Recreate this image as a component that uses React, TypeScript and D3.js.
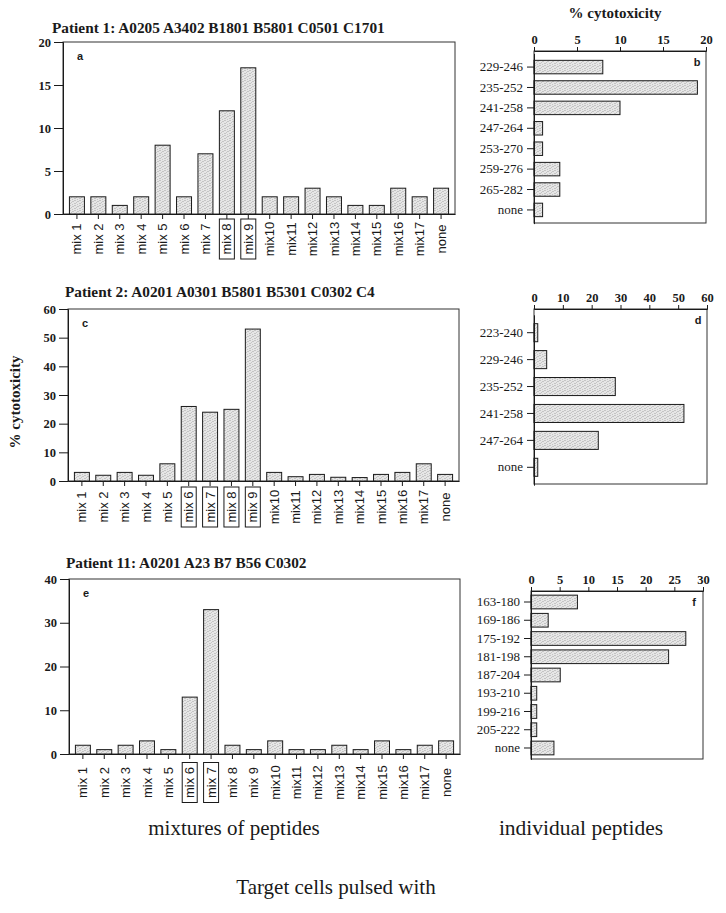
import React, { useEffect, useRef } from 'react';
import * as d3 from 'd3';

// categories and values
const mixCategories = [
  'mix 1', 'mix 2', 'mix 3', 'mix 4', 'mix 5', 'mix 6', 'mix 7', 'mix 8', 'mix 9',
  'mix10', 'mix11', 'mix12', 'mix13', 'mix14', 'mix15', 'mix16', 'mix17', 'none',
];
const patient1Values = [2, 2, 1, 2, 8, 2, 7, 12, 17, 2, 2, 3, 2, 1, 1, 3, 2, 3];
const patient2Values = [3, 2, 3, 2, 6, 26, 24, 25, 53, 3, 1.5, 2.3, 1.3, 1.2, 2.3, 3, 6, 2.3];
const patient11Values = [2, 1, 2, 3, 1, 13, 33, 2, 1, 3, 1, 1, 2, 1, 3, 1, 2, 3];

const boxedA = ['mix 8', 'mix 9'];
const boxedC = ['mix 6', 'mix 7', 'mix 8', 'mix 9'];
const boxedE = ['mix 6', 'mix 7'];

const ticksA = [0, 5, 10, 15, 20];
const ticksC = [0, 10, 20, 30, 40, 50, 60];
const ticksE = [0, 10, 20, 30, 40];

const peptidesB = ['229-246', '235-252', '241-258', '247-264', '253-270', '259-276', '265-282', 'none'];
const valuesB = [8, 19, 10, 1, 1, 3, 3, 1];
const ticksB = [0, 5, 10, 15, 20];

const peptidesD = ['223-240', '229-246', '235-252', '241-258', '247-264', 'none'];
const valuesD = [1.3, 4.4, 28.2, 52, 22.3, 1.3];
const ticksD = [0, 10, 20, 30, 40, 50, 60];

const peptidesF = ['163-180', '169-186', '175-192', '181-198', '187-204', '193-210', '199-216', '205-222', 'none'];
const valuesF = [8.1, 3, 27, 24, 5.1, 1, 1, 1, 4];
const ticksF = [0, 5, 10, 15, 20, 25, 30];

const titleA = 'Patient 1: A0205 A3402 B1801 B5801 C0501 C1701';
const titleC = 'Patient 2: A0201 A0301 B5801 B5301 C0302 C4';
const titleE = 'Patient 11: A0201 A23 B7 B56 C0302';

const SERIF = '"Liberation Serif", "Times New Roman", serif';
const SANS = '"Liberation Sans", Arial, sans-serif';
const INK = '#1a1a1a';

const App: React.FC = () => {
  const svgRef = useRef<SVGSVGElement>(null);

  useEffect(() => {
    if (!svgRef.current) return;
    const svg = d3.select(svgRef.current);
    svg.selectAll('*').remove();

    // stippled fill like the printed bars (scattered dots, no diagonal run)
    const pat = svg.append('defs').append('pattern')
      .attr('id', 'stipple')
      .attr('width', 5).attr('height', 5)
      .attr('patternUnits', 'userSpaceOnUse');
    pat.append('rect').attr('width', 5).attr('height', 5).attr('fill', '#e6e6e6');
    [[0, 0], [3, 1], [1, 2], [4, 3], [2, 4], [2, 1], [0, 3], [4, 0]].forEach(([dx, dy]) => {
      pat.append('rect').attr('x', dx).attr('y', dy).attr('width', 1).attr('height', 1).attr('fill', '#c4c4c4');
    });

    const mixPanels = [
      { title: titleA, values: patient1Values, boxed: boxedA, ticks: ticksA, letter: 'a',
        left: 63, right: 455, top: 42, bottom: 214, titleX: 52, titleY: 33, labOff: 25 },
      { title: titleC, values: patient2Values, boxed: boxedC, ticks: ticksC, letter: 'c',
        left: 68, right: 459, top: 309, bottom: 481, titleX: 65, titleY: 297, labOff: 26 },
      { title: titleE, values: patient11Values, boxed: boxedE, ticks: ticksE, letter: 'e',
        left: 69, right: 460, top: 579, bottom: 754, titleX: 66, titleY: 568, labOff: 28.5 },
    ];

    mixPanels.forEach(p => {
      const x = d3.scaleBand().domain(mixCategories).range([p.left, p.right]).padding(0.3);
      const y = d3.scaleLinear().domain([0, p.ticks[p.ticks.length - 1]]).range([p.bottom, p.top]);
      const g = svg.append('g');

      g.append('text')
        .attr('x', p.titleX).attr('y', p.titleY)
        .attr('font-family', SERIF).attr('font-weight', 'bold').attr('font-size', 15.3)
        .attr('fill', INK)
        .text(p.title);

      // frame
      g.append('rect')
        .attr('x', p.left).attr('y', p.top)
        .attr('width', p.right - p.left).attr('height', p.bottom - p.top)
        .attr('fill', 'none').attr('stroke', '#333').attr('stroke-width', 1);

      g.selectAll('.bar')
        .data(p.values)
        .enter().append('rect')
        .attr('x', (_d, i) => x(mixCategories[i]) || 0)
        .attr('y', d => y(d))
        .attr('width', x.bandwidth())
        .attr('height', d => p.bottom - y(d))
        .attr('fill', 'url(#stipple)')
        .attr('stroke', INK).attr('stroke-width', 1);

      const ya = g.append('g')
        .attr('transform', `translate(${p.left},0)`)
        .call(d3.axisLeft(y).tickValues(p.ticks).tickSize(9).tickPadding(3).tickFormat(d3.format('d')));
      ya.select('.domain').attr('stroke', INK);
      ya.selectAll('line').attr('stroke', INK);
      ya.selectAll('text')
        .attr('font-family', SERIF).attr('font-weight', 'bold').attr('font-size', 12.5).attr('fill', INK);

      const xa = g.append('g')
        .attr('transform', `translate(0,${p.bottom})`)
        .call(d3.axisBottom(x).tickSize(5).tickSizeOuter(0));
      xa.select('.domain').attr('stroke', INK);
      xa.selectAll('line').attr('stroke', INK);
      xa.selectAll<SVGTextElement, string>('text')
        .attr('transform', 'rotate(-90)')
        .attr('x', -p.labOff).attr('y', 0).attr('dy', '0.35em')
        .attr('text-anchor', 'middle')
        .attr('font-family', SANS).attr('font-size', 13).attr('fill', INK);
      xa.selectAll<SVGGElement, string>('.tick')
        .filter(d => p.boxed.includes(d))
        .append('rect')
        .attr('x', -7.5).attr('y', p.labOff - 20)
        .attr('width', 15).attr('height', 40)
        .attr('fill', 'none').attr('stroke', INK).attr('stroke-width', 1);

      g.append('text')
        .attr('x', p.left + 14).attr('y', p.top + 18)
        .attr('font-family', SANS).attr('font-weight', 'bold').attr('font-size', 11)
        .attr('fill', INK)
        .text(p.letter);
    });

    const pepPanels = [
      { cats: peptidesB, values: valuesB, ticks: ticksB, letter: 'b', pad: 0.34,
        left: 534, right: 706, top: 51, bottom: 223, bandTop: 53.4, bandBottom: 223.6 },
      { cats: peptidesD, values: valuesD, ticks: ticksD, letter: 'd', pad: 0.33,
        left: 534, right: 707, top: 309, bottom: 484, bandTop: 314.8, bandBottom: 485.2 },
      { cats: peptidesF, values: valuesF, ticks: ticksF, letter: 'f', pad: 0.25,
        left: 531, right: 703, top: 591, bottom: 759, bandTop: 590.6, bandBottom: 759.4 },
    ];

    pepPanels.forEach(p => {
      const y = d3.scaleBand().domain(p.cats).range([p.bandTop, p.bandBottom]).padding(p.pad);
      const x = d3.scaleLinear().domain([0, p.ticks[p.ticks.length - 1]]).range([p.left, p.right]);
      const g = svg.append('g');

      g.append('rect')
        .attr('x', p.left).attr('y', p.top)
        .attr('width', p.right - p.left).attr('height', p.bottom - p.top)
        .attr('fill', 'none').attr('stroke', '#333').attr('stroke-width', 1);

      g.selectAll('.bar')
        .data(p.values)
        .enter().append('rect')
        .attr('x', p.left)
        .attr('y', (_d, i) => y(p.cats[i]) || 0)
        .attr('width', d => x(d) - p.left)
        .attr('height', y.bandwidth())
        .attr('fill', 'url(#stipple)')
        .attr('stroke', INK).attr('stroke-width', 1);

      const xa = g.append('g')
        .attr('transform', `translate(0,${p.top})`)
        .call(d3.axisTop(x).tickValues(p.ticks).tickSize(4).tickPadding(3).tickFormat(d3.format('d')));
      xa.select('.domain').attr('stroke', INK);
      xa.selectAll('line').attr('stroke', INK);
      xa.selectAll('text')
        .attr('font-family', SERIF).attr('font-weight', 'bold').attr('font-size', 12.5).attr('fill', INK);

      const ya = g.append('g')
        .attr('transform', `translate(${p.left},0)`)
        .call(d3.axisLeft(y).tickSize(7).tickPadding(4).tickSizeOuter(0));
      ya.select('.domain').attr('stroke', INK);
      ya.selectAll('line').attr('stroke', INK);
      ya.selectAll('text')
        .attr('font-family', SERIF).attr('font-size', 13).attr('fill', INK);

      g.append('text')
        .attr('x', p.right - 9).attr('y', p.top + 15)
        .attr('text-anchor', 'middle')
        .attr('font-family', SANS).attr('font-weight', 'bold').attr('font-size', 11)
        .attr('fill', INK)
        .text(p.letter);
    });

    // shared axis titles and captions
    svg.append('text')
      .attr('x', 615).attr('y', 18)
      .attr('text-anchor', 'middle')
      .attr('font-family', SERIF).attr('font-weight', 'bold').attr('font-size', 15)
      .attr('fill', INK)
      .text('% cytotoxicity');

    svg.append('text')
      .attr('transform', 'translate(20,402) rotate(-90)')
      .attr('text-anchor', 'middle')
      .attr('font-family', SERIF).attr('font-weight', 'bold').attr('font-size', 15)
      .attr('fill', INK)
      .text('% cytotoxicity');

    svg.append('text')
      .attr('x', 234).attr('y', 835)
      .attr('text-anchor', 'middle')
      .attr('font-family', SERIF).attr('font-size', 21)
      .attr('fill', INK)
      .text('mixtures of peptides');

    svg.append('text')
      .attr('x', 581).attr('y', 835)
      .attr('text-anchor', 'middle')
      .attr('font-family', SERIF).attr('font-size', 21.5)
      .attr('fill', INK)
      .text('individual peptides');

    svg.append('text')
      .attr('x', 336).attr('y', 894)
      .attr('text-anchor', 'middle')
      .attr('font-family', SERIF).attr('font-size', 21)
      .attr('fill', INK)
      .text('Target cells pulsed with');
  }, []);

  return (
    <svg
      ref={svgRef}
      width={726}
      height={913}
      style={{ position: 'absolute', left: 0, top: 0, background: '#fff' }}
    />
  );
};

export default App;
